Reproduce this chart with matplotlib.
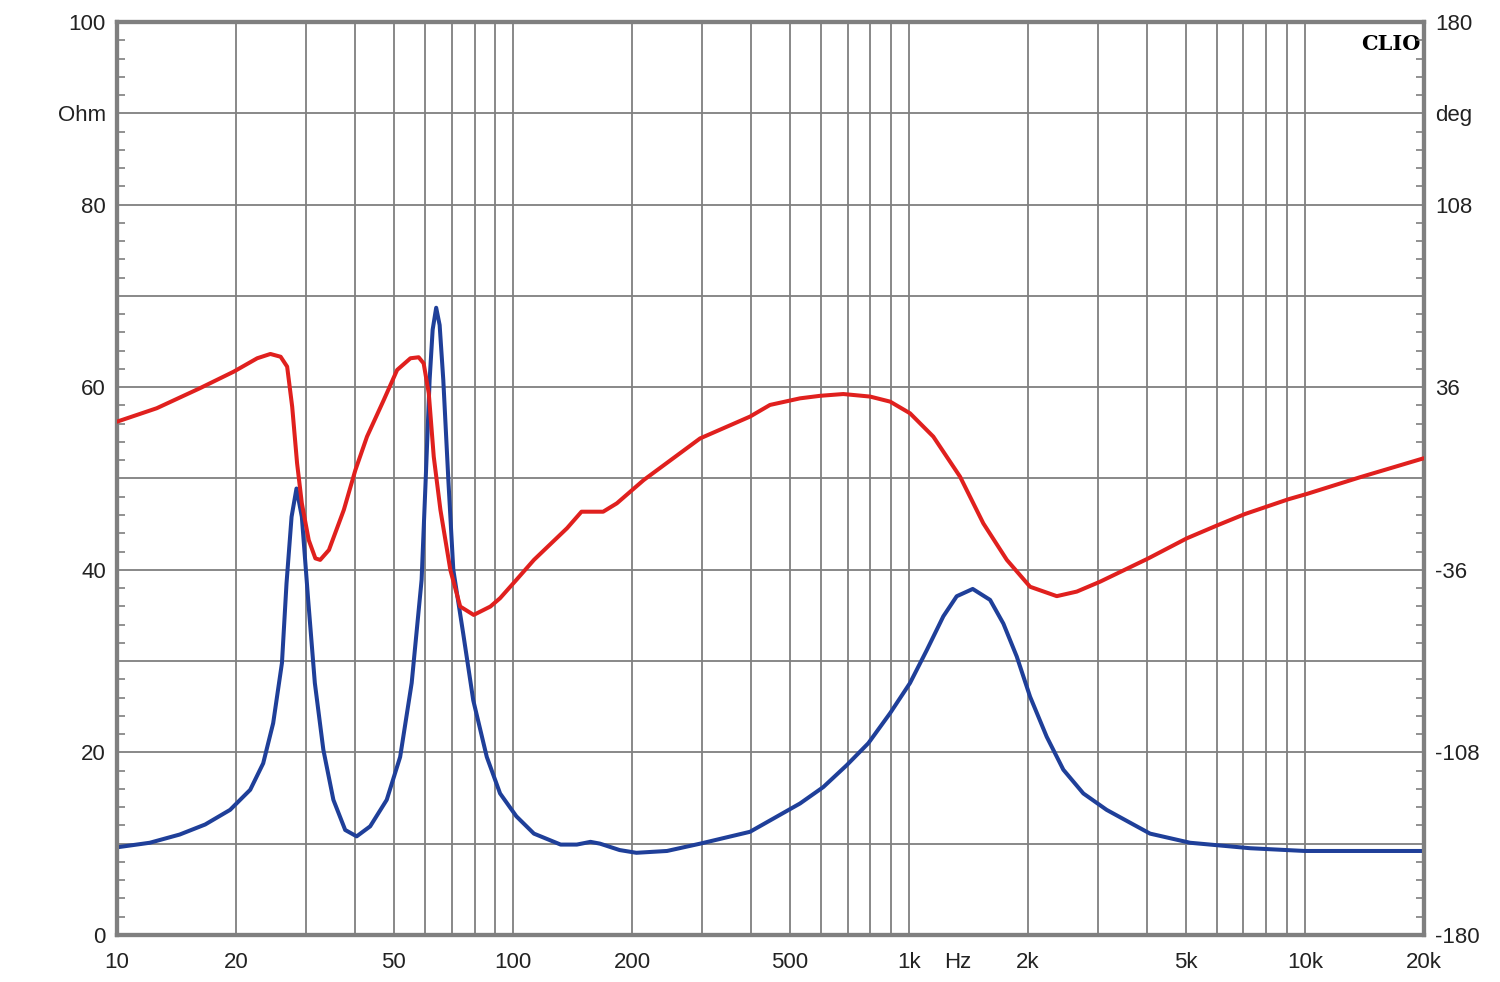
import numpy as np
import matplotlib
matplotlib.use('Agg')
import matplotlib.pyplot as plt
from matplotlib.ticker import FixedLocator, NullFormatter

plt.rcParams['font.family'] = ['Liberation Sans', 'DejaVu Sans']

# impedance magnitude (Ohm)
mag_f = [10, 12.1, 14.4, 16.7, 19.3, 21.7, 23.4, 24.8, 26.1, 26.8, 27.6, 28.4, 29.3,
         30.4, 31.6, 33.2, 35.2, 37.7, 40.3, 43.6, 48.0, 51.9, 55.5, 58.8, 60.2, 61.6,
         62.7, 64.0, 65.3, 66.7, 68.7, 70.7, 74.9, 79.4, 85.9, 92.8, 102, 113, 132,
         145, 157, 166, 186, 205, 245, 297, 397, 531, 608, 697, 790, 897, 1007, 1110,
         1222, 1321, 1450, 1604, 1733, 1873, 2024, 2230, 2456, 2759, 3160, 3690, 4067,
         5132, 7280, 10000, 20000]
mag_ohm = [9.6, 10.1, 11.0, 12.1, 13.7, 15.9, 18.8, 23.2, 29.8, 38.5, 45.8, 48.9, 45.8,
           36.7, 27.6, 20.3, 14.8, 11.5, 10.8, 11.9, 14.8, 19.5, 27.6, 38.9, 49.8, 60.8,
           66.3, 68.7, 66.8, 60.8, 49.8, 40.0, 33.0, 25.7, 19.5, 15.5, 13.0, 11.1, 9.9,
           9.9, 10.2, 10.0, 9.3, 9.0, 9.2, 10.0, 11.3, 14.4, 16.2, 18.6, 21.0, 24.3, 27.6,
           31.2, 34.9, 37.1, 37.9, 36.7, 34.1, 30.5, 26.1, 21.7, 18.1, 15.5, 13.7, 12.1,
           11.1, 10.1, 9.5, 9.2, 9.2]

# impedance phase (deg)
ph_f = [10, 12.6, 16.2, 19.7, 22.6, 24.4, 25.9, 26.9, 27.7, 28.5, 29.3, 30.5, 31.7,
        32.6, 34.3, 37.4, 40.0, 42.8, 47.2, 51.0, 55.1, 57.8, 59.5, 61.3, 63.1, 65.6,
        69.5, 73.6, 79.6, 87.7, 92.8, 102, 113, 137, 149, 169, 183, 214, 297, 397,
        446, 531, 597, 683, 798, 897, 1007, 1153, 1347, 1542, 1768, 2024, 2364, 2656,
        3041, 4027, 5035, 6051, 7067, 9089, 10120, 13800, 20000]
ph_deg = [22.4, 27.7, 35.6, 42.1, 47.4, 49.1, 48.0, 44.1, 28.3, 6.0, -9.8, -24.3, -31.5,
          -32.1, -28.2, -12.4, 3.3, 16.5, 31.0, 42.8, 47.4, 47.8, 45.4, 33.6, 8.6, -12.4,
          -36.1, -50.5, -53.8, -50.5, -47.2, -40.0, -32.1, -19.6, -13.1, -13.1, -9.8, -0.6,
          15.8, 24.4, 29.0, 31.6, 32.6, 33.3, 32.3, 30.3, 25.7, 16.5, 0.7, -17.7, -32.1,
          -42.7, -46.4, -44.6, -40.7, -31.5, -23.6, -18.3, -14.0, -8.2, -6.1, 0.5, 8.0]

x_ticks = [10, 20, 50, 100, 200, 500, 1000, 2000, 5000, 10000, 20000]
x_labels = ['10', '20', '50', '100', '200', '500', '1k', '2k', '5k', '10k', '20k']
left_ticks = [0, 20, 40, 60, 80, 90, 100]
left_labels = ['0', '20', '40', '60', '80', 'Ohm', '100']
right_ticks = [-180, -108, -36, 36, 108, 144, 180]
right_labels = ['-180', '-108', '-36', '36', '108', 'deg', '180']

gc = '#7f7f7f'
tc = '#222222'
fs = 16
fig = plt.figure(figsize=(15, 9.82), dpi=100)
ax = fig.add_axes([0.078, 0.0479, 0.8713, 0.9297])
ax.set_xscale('log')
ax.set_xlim(10, 20000)
ax.set_ylim(0, 100)

grid_x = [m * 10 ** d for d in range(1, 5) for m in range(1, 10) if m * 10 ** d <= 20000]
for gx in grid_x:
    ax.axvline(gx, color=gc, lw=1.3, zorder=1)
for gy in range(10, 100, 10):
    ax.axhline(gy, color=gc, lw=1.3, zorder=1)

ax.xaxis.set_major_locator(FixedLocator(x_ticks))
ax.set_xticklabels(x_labels)
ax.xaxis.set_minor_formatter(NullFormatter())
ax.tick_params(axis='x', which='both', length=0, labelsize=fs, pad=12, colors=tc)
ax.annotate('Hz', xy=(1330, 0), xycoords=('data', 'axes fraction'), xytext=(0, -12),
            textcoords='offset points', ha='center', va='top', fontsize=fs, color=tc)

ax.plot(mag_f, mag_ohm, color='#1f3f99', lw=2.9, zorder=3,
        solid_joinstyle='round', solid_capstyle='round')

ax.set_yticks(left_ticks)
ax.set_yticklabels(left_labels)
ax.yaxis.set_minor_locator(FixedLocator([v for v in range(0, 101, 2) if v % 10]))
ax.tick_params(axis='y', which='major', length=0, labelsize=fs, pad=8, colors=tc)
ax.tick_params(axis='y', which='minor', direction='in', length=6, width=1.2, color=gc)

ax2 = ax.twinx()
ax2.set_ylim(-180, 180)
ax2.plot(ph_f, ph_deg, color='#e0201e', lw=2.9, zorder=3,
         solid_joinstyle='round', solid_capstyle='round')
ax2.set_yticks(right_ticks)
ax2.set_yticklabels(right_labels)
ax2.yaxis.set_minor_locator(FixedLocator([v * 3.6 - 180 for v in range(0, 101, 2) if v % 10]))
ax2.tick_params(axis='y', which='major', length=0, labelsize=fs, pad=8, colors=tc)
ax2.tick_params(axis='y', which='minor', direction='in', length=6, width=1.2, color=gc)

for a in (ax, ax2):
    for s in a.spines.values():
        s.set_color(gc)
        s.set_linewidth(3)

ax.text(0.9975, 0.987, 'CLIO', transform=ax.transAxes, ha='right', va='top',
        fontsize=15, fontweight='bold', family='DejaVu Serif', color='black')

fig.savefig('out.png', dpi=100)
